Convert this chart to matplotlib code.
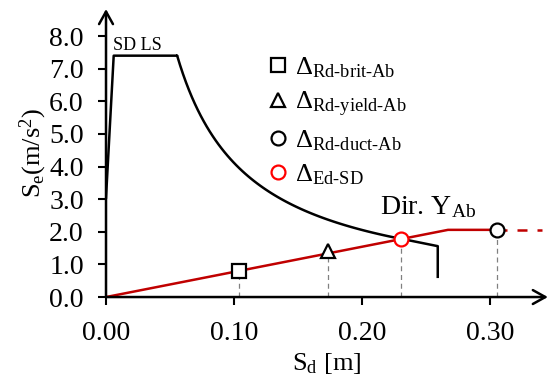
import numpy as np
import matplotlib.pyplot as plt

plt.rcParams['font.family'] = ['Liberation Serif', 'DejaVu Serif']
plt.rcParams['mathtext.fontset'] = 'custom'
plt.rcParams['mathtext.rm'] = 'Liberation Serif'
plt.rcParams['mathtext.it'] = 'Liberation Serif:italic'

# demand spectrum (SD LS) in ADRS format
spec_sd_start = [0.0, 0.006, 0.0555]
spec_se_start = [3.05, 7.4, 7.4]
spec_k = 0.411          # Se*Sd in the constant-velocity branch
spec_sd_branch_end = 0.238
spec_tail_sd = [0.259, 0.259]
spec_tail_se = [1.56, 0.62]

# capacity curve, direction Y
cap_sd = [0.0, 0.267, 0.3055]
cap_se = [0.0, 2.06, 2.06]
cap_dash_sd = [0.3055, 0.34]
cap_dash_se = [2.06, 2.06]

# limit-state points
pts_sd = [0.1035, 0.1735, 0.3055, 0.2305]
pts_se = [0.80, 1.40, 2.06, 1.78]
pts_marker = ['s', '^', 'o', 'o']
pts_edge = ['black', 'black', 'black', 'red']
pts_label = [r'$\Delta_{\text{Rd-brit-Ab}}$', r'$\Delta_{\text{Rd-yield-Ab}}$',
             r'$\Delta_{\text{Rd-duct-Ab}}$', r'$\Delta_{\text{Ed-SD}}$']

x_ticks = [0.0, 0.1, 0.2, 0.3]
y_ticks = [0, 1, 2, 3, 4, 5, 6, 7, 8]

fig = plt.figure(figsize=(5.51, 3.76), dpi=100)
ax = fig.add_axes([0.1924, 0.210, 0.802, 0.766])

sd_branch = np.linspace(spec_sd_start[-1], spec_sd_branch_end, 80)
spec_sd = list(spec_sd_start) + list(sd_branch) + spec_tail_sd
spec_se = list(spec_se_start) + list(spec_k / sd_branch) + spec_tail_se
ax.plot(spec_sd, spec_se, color='black', lw=1.8, zorder=3)

ax.plot(cap_sd, cap_se, color='#c00000', lw=1.8, zorder=3)
ax.plot(cap_dash_sd, cap_dash_se, color='#c00000', lw=1.8, ls=(0, (4, 4)), zorder=3)

for sd, se, m, ec, lab in zip(pts_sd, pts_se, pts_marker, pts_edge, pts_label):
    ax.plot([sd, sd], [0, se], color='grey', lw=0.9, ls=(0, (4, 3)), zorder=2)
    ax.plot(sd, se, marker=m, ms=10, mfc='white', mec=ec, mew=1.6, ls='none',
            zorder=5, label=lab)

ax.set_xlim(0, 0.345)
ax.set_ylim(0, 8.83)
ax.set_xticks(x_ticks)
ax.set_xticklabels(['%.2f' % v for v in x_ticks])
ax.set_yticks(y_ticks)
ax.set_yticklabels(['%.1f' % v for v in y_ticks])
ax.tick_params(direction='out', length=6, width=1.5, labelsize=20, pad=10)
ax.tick_params(axis='x', pad=11)

for s in ax.spines.values():
    s.set_visible(False)
ax.annotate('', xy=(1.0, 0), xytext=(0, 0), xycoords='axes fraction',
            arrowprops=dict(arrowstyle='->,head_length=0.9,head_width=0.5', lw=1.8,
                            color='black', shrinkA=0, shrinkB=0))
ax.annotate('', xy=(0, 1.0), xytext=(0, 0), xycoords='axes fraction',
            arrowprops=dict(arrowstyle='->,head_length=0.9,head_width=0.5', lw=1.8,
                            color='black', shrinkA=0, shrinkB=0))

ax.text(0.0055, 7.58, 'SD LS', fontsize=13, va='baseline', ha='left')
ax.text(0.214, 2.55, r'Dir. Y$_{\mathrm{Ab}}$', fontsize=20, va='baseline', ha='left')

ax.set_xlabel(r'S$_{\mathrm{d}}$ [m]', fontsize=19, labelpad=4)
ax.set_ylabel(r'S$_{\mathrm{e}}$(m/s$^{2}$)', fontsize=19, labelpad=0)

ax.legend(loc='upper left', bbox_to_anchor=(0.329, 0.885), frameon=False,
          fontsize=19, handletextpad=0.15, labelspacing=0.36, borderpad=0,
          handlelength=1.0)

fig.savefig('out.png', dpi=100)
